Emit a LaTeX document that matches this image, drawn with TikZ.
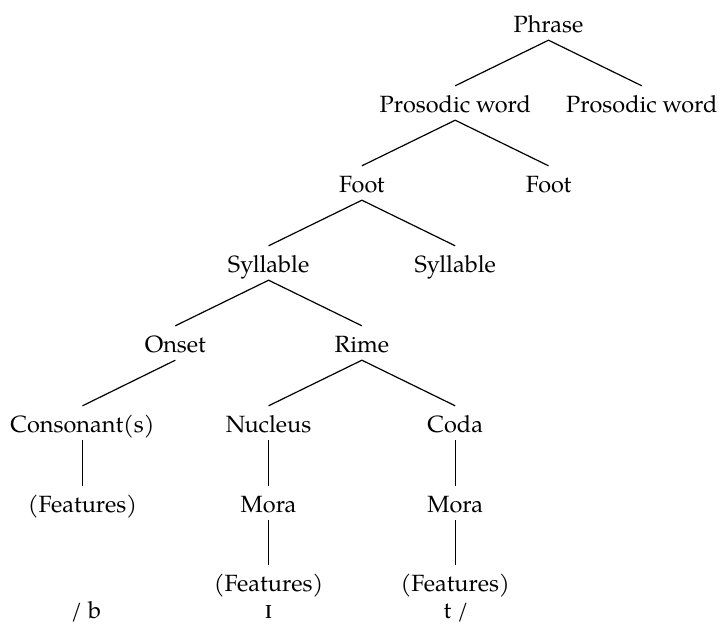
\documentclass[tikz,border=0pt]{standalone}
\usepackage{fontspec}
\setmainfont{texgyrepagella}[Extension=.otf, UprightFont=*-regular, ItalicFont=*-italic, BoldFont=*-bold, BoldItalicFont=*-bolditalic]
% IPA letters are not in Pagella
\newfontfamily\ipafont{Liberation Serif}[Scale=1.2]
\begin{document}
\begin{tikzpicture}[x=1pt, y=-1pt,
  lbl/.style={anchor=base, inner xsep=0pt, inner ysep=3pt,
    text height=23pt, text depth=5pt,
    font=\fontsize{23.5}{28}\selectfont},
  seg/.style={lbl, text height=16pt, text depth=4pt, inner ysep=0pt},
  edge/.style={line width=1.2pt}]
\useasboundingbox (0,0) rectangle (721,624);

% prosodic hierarchy
\node[lbl] (phrase) at (548.5,32)  {Phrase};
\node[lbl] (pw1)    at (455.2,112) {Prosodic word};
\node[lbl] (pw2)    at (641.8,112) {Prosodic word};
\node[lbl] (ft1)    at (361.9,192) {Foot};
\node[lbl] (ft2)    at (548.5,192) {Foot};
\node[lbl] (syl1)   at (268.6,272) {Syllable};
\node[lbl] (syl2)   at (455.2,272) {Syllable};
\node[lbl] (onset)  at (175.3,352) {Onset};
\node[lbl] (rime)   at (361.9,352) {Rime};
\node[lbl] (cons)   at (82.5,432)  {Consonant(s)};
\node[lbl] (nuc)    at (268.6,432) {Nucleus};
\node[lbl] (coda)   at (455.2,432) {Coda};
\node[lbl] (feat1)  at (82.5,512)  {(Features)};
\node[lbl] (mora1)  at (268.6,512) {Mora};
\node[lbl] (mora2)  at (455.2,512) {Mora};
\node[lbl] (feat2)  at (268.6,591) {(Features)};
\node[lbl] (feat3)  at (455.2,591) {(Features)};

% segmental transcription
\node[seg] (segb) at (86,618)    {/ b};
\node[seg] (segi) at (268.6,618) {\ipafont ɪ};
\node[seg] (segt) at (456,618)   {t /};

% branches
\draw[edge] (pw1.north) -- (phrase.south) -- (pw2.north);
\draw[edge] (ft1.north) -- (pw1.south) -- (ft2.north);
\draw[edge] (syl1.north) -- (ft1.south) -- (syl2.north);
\draw[edge] (onset.north) -- (syl1.south) -- (rime.north);
\draw[edge] (onset.south) -- (cons.north);
\draw[edge] (nuc.north) -- (rime.south) -- (coda.north);
\draw[edge] (cons.south) -- (feat1.north);
\draw[edge] (nuc.south) -- (mora1.north);
\draw[edge] (coda.south) -- (mora2.north);
\draw[edge] (mora1.south) -- (feat2.north);
\draw[edge] (mora2.south) -- (feat3.north);
\end{tikzpicture}
\end{document}
